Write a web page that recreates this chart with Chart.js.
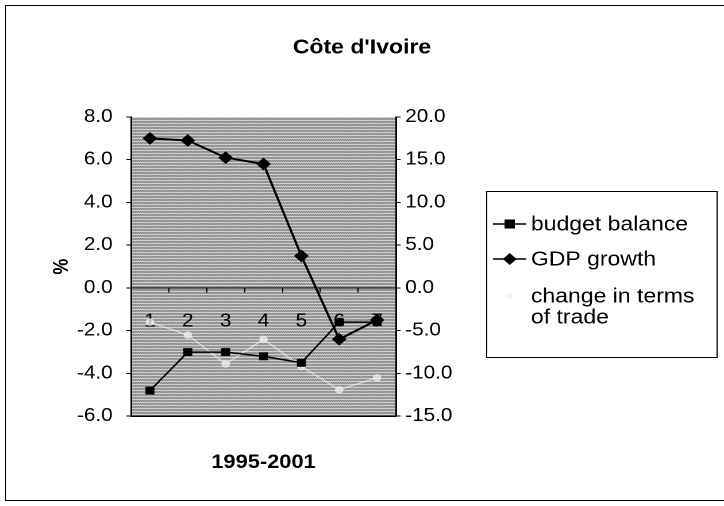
<!DOCTYPE html>
<html>
<head>
<meta charset="utf-8">
<script src="https://cdn.jsdelivr.net/npm/chart.js@4.4.1/dist/chart.umd.min.js"></script>
<style>
  html, body { margin: 0; padding: 0; background: #fff; }
  #wrap { position: relative; width: 724px; height: 506px; overflow: hidden; }
  #frame { position: absolute; left: 5px; top: 5px; width: 720px; height: 494px;
           border-top: 1px solid #000; border-left: 1px solid #000; border-bottom: 1px solid #000; }
  /* the scanned original is a little wider than tall: stretch the drawing the same way */
  #stage { position: absolute; left: 0; top: 0; width: 630px; height: 506px;
           transform: scaleX(1.149206); transform-origin: 0 0; }
</style>
</head>
<body>
<div id="wrap">
  <div id="frame"></div>
  <div id="stage"><canvas id="chartCanvas" width="630" height="506"></canvas></div>
</div>
<script>
// categories (years 1995-2001 numbered 1..7)
const categories = ['1', '2', '3', '4', '5', '6', '7'];
// left axis (%)
const budgetBalance = [-4.8, -3.0, -3.0, -3.2, -3.5, -1.6, -1.6];
const gdpGrowth = [7.0, 6.9, 6.1, 5.8, 1.5, -2.4, -1.5];
// right axis
const termsOfTrade = [-4.0, -5.5, -8.9, -6.0, -9.2, -11.9, -10.5];

const leftTicks = { min: -6, max: 8, step: 2 };
const rightTicks = { min: -15, max: 20, step: 5 };

const FONT = "'Liberation Sans', Arial, sans-serif";

// halftone gray fill of the plot area
function makePattern(ctx) {
  const c = document.createElement('canvas');
  c.width = 4; c.height = 3;
  const g = c.getContext('2d');
  const rows = [
    ['#f0f0f0', '#dedede', '#f0f0f0', '#e4e4e4'],
    ['#5e5e5e', '#b4b4b4', '#5e5e5e', '#b4b4b4'],
    ['#b4b4b4', '#666666', '#b4b4b4', '#666666']
  ];
  rows.forEach((r, y) => r.forEach((col, x) => { g.fillStyle = col; g.fillRect(x, y, 1, 1); }));
  return ctx.createPattern(c, 'repeat');
}

const plotBg = {
  id: 'plotBg',
  beforeDraw(chart) {
    const a = chart.chartArea;
    const ctx = chart.ctx;
    ctx.save();
    ctx.fillStyle = makePattern(ctx);
    ctx.fillRect(a.left, a.top, a.right - a.left, a.bottom - a.top);
    ctx.restore();
  }
};

function marker(ctx, style, x, y, r, color) {
  ctx.fillStyle = color;
  ctx.beginPath();
  if (style === 'rect') {
    ctx.rect(x - r, y - r, 2 * r, 2 * r);
  } else if (style === 'rectRot') {
    ctx.moveTo(x, y - r - 1); ctx.lineTo(x + r + 1, y); ctx.lineTo(x, y + r + 1); ctx.lineTo(x - r - 1, y);
    ctx.closePath();
  } else {
    ctx.arc(x, y, r, 0, Math.PI * 2);
  }
  ctx.fill();
}

// Excel-like boxed legend on the right
const boxLegend = {
  id: 'boxLegend',
  afterDraw(chart) {
    const ctx = chart.ctx;
    const box = { x: 423.5, y: 191.5, w: 200.5, h: 166 };
    ctx.save();
    ctx.fillStyle = '#fff';
    ctx.fillRect(box.x, box.y, box.w, box.h);
    ctx.strokeStyle = '#000';
    ctx.lineWidth = 1;
    ctx.strokeRect(box.x, box.y, box.w, box.h);
    const rowsY = [224, 259, 296];
    const texts = [['budget balance'], ['GDP growth'], ['change in terms', 'of trade']];
    ctx.font = '20px ' + FONT;
    ctx.textBaseline = 'middle';
    chart.data.datasets.forEach((ds, i) => {
      const y = rowsY[i];
      ctx.strokeStyle = ds.borderColor;
      ctx.lineWidth = 1.5;
      ctx.beginPath();
      ctx.moveTo(429, y); ctx.lineTo(458, y);
      ctx.stroke();
      marker(ctx, ds.pointStyle, 443.5, y, ds.pointRadius, ds.pointBackgroundColor);
      ctx.fillStyle = '#000';
      texts[i].forEach((t, k) => ctx.fillText(t, 462, y + 1 + k * 21));
    });
    ctx.restore();
  }
};

const ctx = document.getElementById('chartCanvas').getContext('2d');
new Chart(ctx, {
  type: 'line',
  data: {
    labels: categories,
    datasets: [
      {
        label: 'budget balance',
        data: budgetBalance,
        yAxisID: 'y',
        borderColor: '#000',
        borderWidth: 1.5,
        pointStyle: 'rect',
        pointRadius: 4.5,
        pointBackgroundColor: '#000',
        pointBorderColor: '#000',
        tension: 0
      },
      {
        label: 'GDP growth',
        data: gdpGrowth,
        yAxisID: 'y',
        borderColor: '#000',
        borderWidth: 2,
        pointStyle: 'rectRot',
        pointRadius: 5,
        pointBackgroundColor: '#000',
        pointBorderColor: '#000',
        tension: 0
      },
      {
        label: 'change in terms of trade',
        data: termsOfTrade,
        yAxisID: 'y2',
        borderColor: 'rgba(245,245,245,0.6)',
        borderWidth: 1.5,
        pointStyle: 'circle',
        pointRadius: 3,
        pointBackgroundColor: 'rgba(240,240,240,0.7)',
        pointBorderColor: 'rgba(240,240,240,0.7)',
        tension: 0
      }
    ]
  },
  options: {
    responsive: false,
    animation: false,
    devicePixelRatio: 2,
    events: [],
    layout: { padding: { left: 0, right: 0, top: 0, bottom: 32 } },
    plugins: {
      legend: { display: false },
      tooltip: { enabled: false },
      title: {
        display: true,
        text: "Côte d'Ivoire",
        color: '#000',
        font: { family: FONT, size: 20, weight: 'bold' },
        padding: { top: 36, bottom: 57 }
      }
    },
    scales: {
      x: {
        type: 'category',
        position: { y: 0 },
        offset: true,
        grid: { display: true, drawOnChartArea: false, drawTicks: true, tickLength: 4, color: '#000', offset: true },
        border: { display: true, color: '#000', width: 1 },
        ticks: { color: '#000', font: { family: FONT, size: 18 }, padding: 19, maxRotation: 0 }
      },
      x2: {
        type: 'category',
        position: 'bottom',
        labels: categories,
        offset: true,
        grid: { display: false, drawTicks: false },
        border: { display: true, color: '#000', width: 1.5 },
        ticks: { display: false },
        title: {
          display: true,
          text: '1995-2001',
          color: '#000',
          font: { family: FONT, size: 19, weight: 'bold' },
          padding: { top: 35, bottom: 0 }
        }
      },
      y: {
        position: 'left',
        min: leftTicks.min,
        max: leftTicks.max,
        ticks: {
          stepSize: leftTicks.step,
          color: '#000',
          font: { family: FONT, size: 18 },
          padding: 12,
          callback: v => v.toFixed(1)
        },
        grid: { display: true, drawOnChartArea: false, tickLength: 4, color: '#000' },
        border: { display: true, color: '#000', width: 1.5 },
        title: {
          display: true,
          text: '%',
          color: '#000',
          font: { family: FONT, size: 18, weight: 'bold' },
          padding: { top: 43, bottom: 0 }
        },
        afterFit(s) { s.width = 114; }
      },
      y2: {
        position: 'right',
        min: rightTicks.min,
        max: rightTicks.max,
        ticks: {
          stepSize: rightTicks.step,
          color: '#000',
          font: { family: FONT, size: 18 },
          padding: 4,
          callback: v => v.toFixed(1)
        },
        grid: { display: true, drawOnChartArea: false, tickLength: 4, color: '#000' },
        border: { display: true, color: '#000', width: 1.5 },
        afterFit(s) { s.width = 285.4; }
      }
    }
  },
  plugins: [plotBg, boxLegend]
});
</script>
</body>
</html>
